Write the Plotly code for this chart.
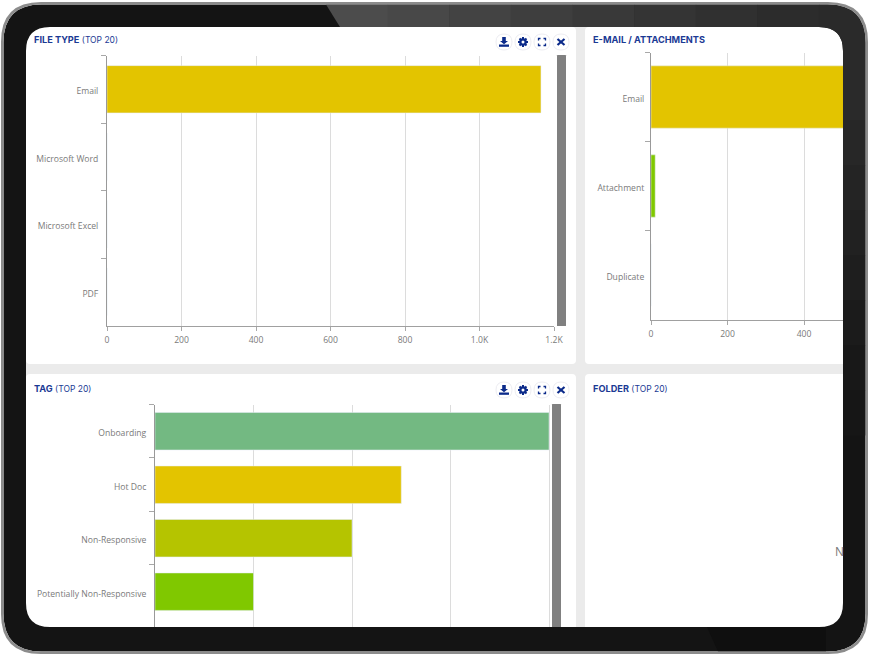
import plotly.graph_objects as go

W, H = 869, 655

file_types = ["Email", "Microsoft Word", "Microsoft Excel", "PDF"]
file_counts = [1165, 0, 0, 0]
file_colors = ["#E3C400", "#E3C400", "#E3C400", "#E3C400"]
file_ticks = [0, 200, 400, 600, 800, 1000, 1200]
file_ticklabels = ["0", "200", "400", "600", "800", "1.0K", "1.2K"]

mail_types = ["Email", "Attachment", "Duplicate"]
mail_counts = [1150, 11, 0]
mail_colors = ["#E3C400", "#80C800", "#B5C400"]
mail_ticks = [0, 200, 400]

tags = ["Onboarding", "Hot Doc", "Non-Responsive", "Potentially Non-Responsive"]
tag_counts = [8, 5, 4, 2]
tag_colors = ["#73B982", "#E3C400", "#B5C400", "#80C800"]
tag_ticks = [0, 2, 4, 6, 8]

titles = [("FILE TYPE", " (TOP 20)", 32, 40), ("E-MAIL / ATTACHMENTS", "", 591, 40),
          ("TAG", " (TOP 20)", 32, 388), ("FOLDER", " (TOP 20)", 591, 388)]

NAVY = "#1B3A94"
GREY = "#7A7A7A"
ICON = "#0B2A8A"


def fx(x):
    return x / W


def fy(y):
    return 1 - y / H


def poly(p):
    out = []
    for s in p:
        c = s[0]
        coords = s[1:]
        vals = [f"{fx(coords[i]):.5f},{fy(coords[i + 1]):.5f}" for i in range(0, len(coords), 2)]
        out.append(c + " " + " ".join(vals))
    return " ".join(out)


def rr(x0, y0, x1, y1, r):
    p = [("M", x0 + r, y0), ("L", x1 - r, y0), ("Q", x1, y0, x1, y0 + r), ("L", x1, y1 - r),
         ("Q", x1, y1, x1 - r, y1), ("L", x0 + r, y1), ("Q", x0, y1, x0, y1 - r),
         ("L", x0, y0 + r), ("Q", x0, y0, x0 + r, y0)]
    return poly(p) + " Z"


def pshape(path, fill, layer="above", line=None, width=0):
    return dict(type="path", xref="paper", yref="paper", path=path, fillcolor=fill, layer=layer,
                line=dict(color=line or fill, width=width))


def stroke(path, width, color=ICON):
    return dict(type="path", xref="paper", yref="paper", layer="above", fillcolor="rgba(0,0,0,0)",
                line=dict(color=color, width=width), path=path)


shapes = []
# screen backdrop and panels
shapes.append(pshape(rr(20, 20, 850, 635, 10), "#EBEBEB", "below"))
for (a, b, c, d) in [(26, 27, 576, 364), (585, 27, 850, 364), (26, 374, 576, 640), (585, 374, 850, 640)]:
    shapes.append(pshape(rr(a, b, c, d, 4), "#FFFFFF", "below"))

# scrollbars
for (a, b, c, d) in [(557, 55, 566, 326), (552, 404, 561, 640)]:
    shapes.append(pshape(rr(a, b, c, d, 0.5), "#808080"))

# icons
for cy, xs in [(42, [504, 523, 542, 561]), (390, [504, 523, 542, 561])]:
    for cx in xs:
        shapes.append(pshape(rr(cx - 8, cy - 8, cx + 8, cy + 8, 8), "#FFFFFF", "above", "#EDEDF2", 1))
    c = xs[0]
    shapes.append(pshape(poly([("M", c - 1.8, cy - 5), ("L", c + 1.8, cy - 5), ("L", c + 1.8, cy - 1), ("L", c + 4, cy - 1),
                               ("L", c, cy + 2.2), ("L", c - 4, cy - 1), ("L", c - 1.8, cy - 1)]) + " Z", ICON))
    shapes.append(pshape(poly([("M", c - 5, cy + 2.5), ("L", c + 5, cy + 2.5), ("L", c + 5, cy + 4.8), ("L", c - 5, cy + 4.8)]) + " Z", ICON))
    c = xs[1]
    shapes.append(stroke(poly([("M", c - 5, cy), ("L", c + 5, cy), ("M", c, cy - 5), ("L", c, cy + 5),
                               ("M", c - 3.5, cy - 3.5), ("L", c + 3.5, cy + 3.5), ("M", c - 3.5, cy + 3.5), ("L", c + 3.5, cy - 3.5)]), 2))
    shapes.append(pshape(rr(c - 3.8, cy - 3.8, c + 3.8, cy + 3.8, 3.8), ICON))
    shapes.append(pshape(rr(c - 1.5, cy - 1.5, c + 1.5, cy + 1.5, 1.5), "#FFFFFF"))
    c = xs[2]
    for sx, sy in [(-1, -1), (1, -1), (1, 1), (-1, 1)]:
        shapes.append(stroke(poly([("M", c + sx * 3.5, cy + sy * 1.5), ("L", c + sx * 3.5, cy + sy * 3.5), ("L", c + sx * 1.5, cy + sy * 3.5)]), 1.3))
    c = xs[3]
    shapes.append(stroke(poly([("M", c - 3.5, cy - 3), ("L", c + 3.5, cy + 3), ("M", c - 3.5, cy + 3), ("L", c + 3.5, cy - 3)]), 2.2))

# tablet frame: black body with a hole for the screen
rim = rr(1, 2, 868, 654, 40) + " " + rr(3.5, 4.5, 865.5, 651.5, 38)
body = rr(3.5, 4.5, 865.5, 651.5, 38) + " " + rr(26, 27, 843, 627, 24)
shapes.append(pshape(body, "#141414"))

# lighter sheen across the upper-right part of the bezel
steps = ["#4C4C4C", "#484848", "#434343", "#3E3E3E", "#393939", "#343434", "#303030", "#2C2C2C"]
x_start = 326
step_w = (819 - 326) / len(steps)
for i, col in enumerate(steps):
    a = x_start + i * step_w
    b = a + step_w + 0.5
    if i == 0:
        shapes.append(pshape(poly([("M", a, 4.5), ("L", b, 4.5), ("L", b, 27), ("L", a + 14, 27)]) + " Z", col))
    else:
        shapes.append(pshape(poly([("M", a, 4.5), ("L", b, 4.5), ("L", b, 27), ("L", a, 27)]) + " Z", col))
# corner and right bezel, following the curves of body and screen
shapes.append(pshape(poly([("M", 819, 4.5), ("L", 827.5, 4.5), ("Q", 865.5, 4.5, 865.5, 42.5), ("L", 865.5, 120),
                           ("L", 843, 120), ("L", 843, 51), ("Q", 843, 27, 819, 27)]) + " Z", "#2A2A2A"))
side = ["#272727", "#242424", "#212121", "#1E1E1E", "#1B1B1B", "#181818", "#161616"]
for i, col in enumerate(side):
    y0 = 120 + i * 45
    shapes.append(pshape(poly([("M", 843, y0), ("L", 865.5, y0), ("L", 865.5, y0 + 45.5), ("L", 843, y0 + 45.5)]) + " Z", col))
# darker wedge at the bottom right of the bezel
shapes.append(pshape(poly([("M", 707, 627), ("L", 826, 627), ("L", 826, 651.5), ("L", 718, 651.5)]) + " Z", "#0F0F0F"))
shapes.append(pshape(rim, "#8C8C8C"))

axis_font = dict(family="Open Sans, sans-serif", size=8.6, color=GREY)
xcommon = dict(showgrid=True, gridcolor="#DCDCDC", gridwidth=1, showline=True, linecolor="#A0A0A0", linewidth=1,
               ticks="outside", ticklen=4, tickcolor="#A8A8A8", tickfont=axis_font, zeroline=False, fixedrange=True,
               automargin=False, ticklabelstandoff=2)
ycommon = dict(type="category", autorange=False, showgrid=False, showline=True, linecolor="#999999", linewidth=1,
               ticks="outside", ticklen=5, tickcolor="#A8A8A8", tickson="boundaries", tickfont=axis_font,
               zeroline=False, fixedrange=True, automargin=False, ticklabelshift=-2)

fig = go.Figure()
fig.add_trace(go.Bar(x=file_counts, y=file_types, orientation="h", width=0.7, marker_color=file_colors, xaxis="x", yaxis="y"))
fig.add_trace(go.Bar(x=mail_counts, y=mail_types, orientation="h", width=0.7, marker_color=mail_colors, xaxis="x2", yaxis="y2"))
fig.add_trace(go.Bar(x=tag_counts, y=tags, orientation="h", width=0.7, marker_color=tag_colors, xaxis="x3", yaxis="y3"))

annotations = [dict(xref="paper", yref="paper", x=fx(t[2]), y=fy(t[3]), xanchor="left", yanchor="middle", showarrow=False,
                    text=f"<b>{t[0]}</b>" + (f"<span style='font-size:8.5px'>{t[1]}</span>" if t[1] else ""),
                    font=dict(family="Inter, sans-serif", size=9.2, color=NAVY)) for t in titles]
annotations.append(dict(xref="paper", yref="paper", x=fx(833), y=fy(551), xanchor="left", yanchor="middle", showarrow=False,
                        text="N", font=dict(family="Open Sans, sans-serif", size=12, color="#777777")))

x3 = dict(xcommon, showline=False, ticks="", showticklabels=False)

fig.update_layout(
    width=W, height=H, autosize=False, margin=dict(l=0, r=0, t=0, b=0, pad=0, autoexpand=False), showlegend=False,
    paper_bgcolor="#FFFFFF", plot_bgcolor="rgba(0,0,0,0)", bargap=0.3,
    shapes=shapes, annotations=annotations,
    xaxis=dict(domain=[fx(107), fx(554)], range=[0, 1200], tickvals=file_ticks, ticktext=file_ticklabels, anchor="y", **xcommon),
    yaxis=dict(domain=[fy(325.5), fy(55.5)], range=[3.5, -0.5], anchor="x", categoryorder="array", categoryarray=file_types, ticklabelstandoff=6, **ycommon),
    xaxis2=dict(domain=[fx(651), fx(843)], range=[0, 192 / 0.3825], tickvals=mail_ticks, anchor="y2", **xcommon),
    yaxis2=dict(domain=[fy(319.5), fy(52.5)], range=[2.5, -0.5], anchor="x2", categoryorder="array", categoryarray=mail_types, ticklabelstandoff=4, **ycommon),
    xaxis3=dict(domain=[fx(155), fx(554)], range=[0, 399 / 49.25], tickvals=tag_ticks, anchor="y3", **x3),
    yaxis3=dict(domain=[fy(627), fy(404.5)], range=[3.66, -0.5], anchor="x3", categoryorder="array", categoryarray=tags, ticklabelstandoff=6, **ycommon),
)

fig.write_html("out.html", post_script="document.body.style.margin='0';document.body.style.overflow='hidden';",
               config=dict(displayModeBar=False))
